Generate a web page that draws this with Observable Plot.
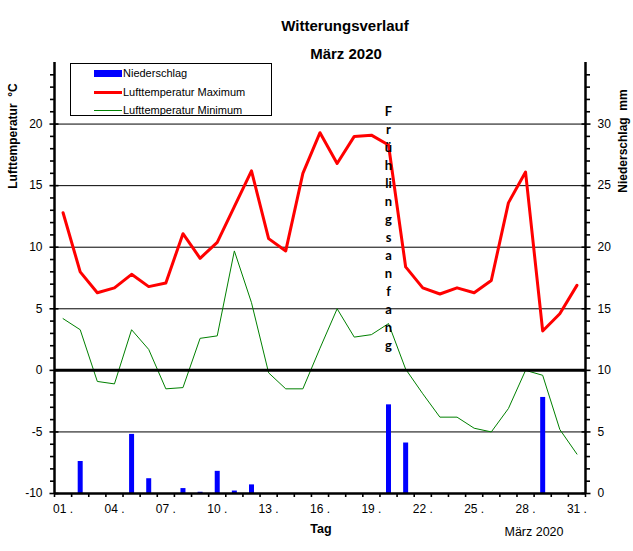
<!DOCTYPE html>
<html>
<head>
<meta charset="utf-8">
<script src="https://cdn.jsdelivr.net/npm/d3@7"></script>
<script src="https://cdn.jsdelivr.net/npm/@observablehq/plot@0.6"></script>
<style>
  body { margin: 0; background: #fff; }
  #wrap { position: relative; width: 633px; height: 551px; font-family: "Liberation Sans", Arial, sans-serif; color: #000; overflow: hidden; }
  #wrap svg { position: absolute; left: 0; top: 0; }
  .abs { position: absolute; white-space: pre; line-height: 1; }
  .title { font-size: 15px; font-weight: bold; transform: translate(-50%, -50%); }
  .vlabel { font-size: 12px; font-weight: bold; transform: translate(-50%, -50%) rotate(-90deg); }
  #legend { position: absolute; left: 70px; top: 63px; width: 202px; height: 53px; box-sizing: border-box; border: 1px solid #000; background: #fff; }
  .lg-text { position: absolute; font-size: 11px; transform: translateY(-50%); white-space: nowrap; }
  .lg-sw { position: absolute; }
</style>
</head>
<body>
<div id="wrap"></div>
<script>
// ---- data ----
const days = [1,2,3,4,5,6,7,8,9,10,11,12,13,14,15,16,17,18,19,20,21,22,23,24,25,26,27,28,29,30,31];
const tmax = [12.8, 8.0, 6.3, 6.7, 7.8, 6.8, 7.1, 11.1, 9.1, 10.4, 13.3, 16.2, 10.7, 9.7, 16.0, 19.3, 16.8, 19.0, 19.1, 18.3, 8.4, 6.7, 6.2, 6.7, 6.3, 7.3, 13.6, 16.1, 3.2, 4.6, 6.9];
const tmin = [4.2, 3.3, -0.9, -1.1, 3.3, 1.7, -1.5, -1.4, 2.6, 2.8, 9.7, 5.5, -0.2, -1.5, -1.5, 1.8, 5.0, 2.7, 2.9, 3.8, 0.1, -1.9, -3.8, -3.8, -4.7, -5.0, -3.1, 0.0, -0.4, -4.8, -6.8];
const precip = [0, 2.6, 0, 0, 4.8, 1.2, 0, 0.4, 0.1, 1.8, 0.2, 0.7, 0, 0, 0, 0, 0, 0, 0, 7.2, 4.1, 0, 0, 0, 0, 0, 0, 0, 7.8, 0, 0];

const tempTicks = [-10, -5, 0, 5, 10, 15, 20];
const tempTickLabels = ["-10", "-5", "0", "5", "10", "15", "20"];
const precipTickLabels = ["0", "5", "10", "15", "20", "25", "30"];
const precipOffset = 10; // 0 mm sits at -10 °C on the shared vertical scale
const gridLines = [-5, 5, 10, 15, 20];
const dayLabelDays = [1, 4, 7, 10, 13, 16, 19, 22, 25, 28, 31];
const dayLabels = ["01 .", "04 .", "07 .", "10 .", "13 .", "16 .", "19 .", "22 .", "25 .", "28 .", "31 ."];
const springDay = 20;
const springLines = ["F", "r", "ü", "h", "li", "n", "g", "s", "a", "n", "f", "a", "n", "g"];

const titleText = "Witterungsverlauf";
const subtitleText = "März 2020";
const yLeftTitle = "Lufttemperatur  °C";
const yRightTitle = "Niederschlag  mm";
const xTitle = "Tag";
const xNote = "März 2020";
const legendItems = ["Niederschlag", "Lufttemperatur Maximum", "Lufttemperatur Minimum"];

// ---- derived tables ----
const rows = days.map((day, i) => ({day, tmax: tmax[i], tmin: tmin[i], mm: precip[i]}));
const rainRows = rows.filter(d => d.mm > 0);
const xDomain = [days[0] - 0.5, days[days.length - 1] + 0.5];
const yDomain = [-10, 25];
const dayBounds = d3.range(xDomain[0], xDomain[1] + 0.01, 1);
const minorTicks = d3.range(yDomain[0], yDomain[1]).filter(d => d % 5 !== 0);

const chart = Plot.plot({
  width: 633,
  height: 551,
  marginLeft: 54,
  marginRight: 48,
  marginTop: 62,
  marginBottom: 58,
  x: {domain: xDomain, axis: null, label: null},
  y: {domain: yDomain, axis: null, label: null},
  style: {fontFamily: "'Liberation Sans', Arial, sans-serif", fontSize: "12px", color: "#000", background: "transparent", overflow: "visible"},
  marks: [
    Plot.ruleY(gridLines, {stroke: "#000", strokeWidth: 1}),
    Plot.ruleX(rainRows, {x: "day", y1: yDomain[0], y2: d => d.mm - precipOffset, stroke: "#0000ff", strokeWidth: 5}),
    Plot.line(rows, {x: "day", y: "tmin", stroke: "#008000", strokeWidth: 1}),
    Plot.line(rows, {x: "day", y: "tmax", stroke: "#ff0000", strokeWidth: 3}),
    Plot.ruleY([0], {stroke: "#000", strokeWidth: 3}),
    Plot.ruleY([yDomain[0]], {stroke: "#000", strokeWidth: 2.5}),
    Plot.ruleX(xDomain, {stroke: "#000", strokeWidth: 2.5}),
    // left axis: minor ticks outside, major ticks crossing, labels
    Plot.axisY({anchor: "left", label: null, ticks: minorTicks, tickSize: 4, strokeWidth: 1.6, tickFormat: () => ""}),
    Plot.axisY({anchor: "left", label: null, ticks: tempTicks, tickSize: 9, dx: 4.5, strokeWidth: 1.6, tickFormat: () => ""}),
    Plot.axisY({anchor: "left", label: null, ticks: tempTicks, tickSize: 0, tickPadding: 12, fontSize: 12, tickFormat: (d, i) => tempTickLabels[i]}),
    // right axis
    Plot.axisY({anchor: "right", label: null, ticks: minorTicks, tickSize: 4, strokeWidth: 1.6, tickFormat: () => ""}),
    Plot.axisY({anchor: "right", label: null, ticks: tempTicks, tickSize: 9, dx: -4.5, strokeWidth: 1.6, tickFormat: () => ""}),
    Plot.axisY({anchor: "right", label: null, ticks: tempTicks, tickSize: 0, tickPadding: 12, fontSize: 12, tickFormat: (d, i) => precipTickLabels[i]}),
    // bottom axis
    Plot.axisX({anchor: "bottom", label: null, ticks: dayBounds, tickSize: 4, strokeWidth: 1.6, tickFormat: () => ""}),
    Plot.axisX({anchor: "bottom", label: null, ticks: dayLabelDays, tickSize: 0, tickPadding: 11, fontSize: 12, tickFormat: (d, i) => dayLabels[i]}),
    // Frühlingsanfang annotation
    Plot.text([{day: springDay, label: springLines.join("\n")}], {
      x: "day", text: "label", frameAnchor: "top", lineAnchor: "top", dy: 41,
      lineHeight: 1.385, fontSize: 13, fontWeight: "bold", fontFamily: "Lato, 'Open Sans', sans-serif", fill: "#000"
    })
  ]
});

const wrap = document.getElementById("wrap");
wrap.appendChild(chart);

function addText(text, cls, left, top, extra) {
  const el = document.createElement("div");
  el.className = "abs " + cls;
  el.textContent = text;
  el.style.left = left + "px";
  el.style.top = top + "px";
  if (extra) Object.assign(el.style, extra);
  wrap.appendChild(el);
  return el;
}

addText(titleText, "title", 345, 25);
addText(subtitleText, "title", 346, 53);
addText(yLeftTitle, "vlabel", 13, 136);
addText(yRightTitle, "vlabel", 623, 141);
addText(xTitle, "title", 321, 529, {fontSize: "12.5px"});
addText(xNote, "", 534, 532, {fontSize: "12.5px", transform: "translate(-50%, -50%)"});

// legend
const legend = document.createElement("div");
legend.id = "legend";
wrap.appendChild(legend);
const swatches = [
  {type: "bar", color: "#0000ff"},
  {type: "line", color: "#ff0000", width: 3},
  {type: "line", color: "#008000", width: 1}
];
const rowY = [9, 28, 46];
legendItems.forEach((label, i) => {
  const sw = document.createElement("div");
  sw.className = "lg-sw";
  const s = swatches[i];
  sw.style.left = "23px";
  sw.style.width = "28px";
  sw.style.background = s.color;
  if (s.type === "bar") {
    sw.style.height = "7px";
    sw.style.top = (rowY[i] - 3.5) + "px";
  } else {
    sw.style.height = s.width + "px";
    sw.style.top = (rowY[i] - s.width / 2) + "px";
  }
  legend.appendChild(sw);
  const tx = document.createElement("div");
  tx.className = "lg-text";
  tx.textContent = label;
  tx.style.left = "52px";
  tx.style.top = rowY[i] + "px";
  legend.appendChild(tx);
});
</script>
</body>
</html>
